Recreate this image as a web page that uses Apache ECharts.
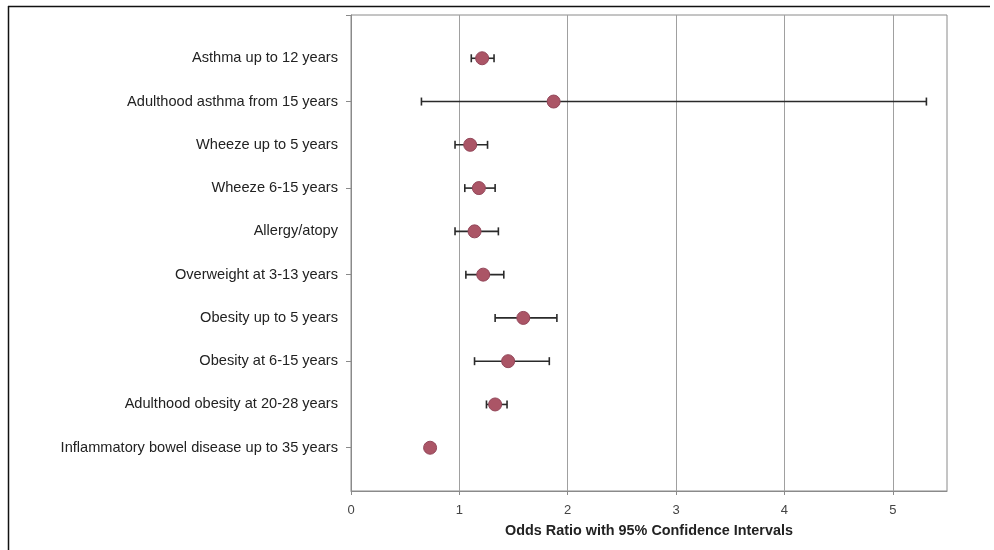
<!DOCTYPE html>
<html>
<head>
<meta charset="utf-8">
<script src="https://cdn.jsdelivr.net/npm/echarts@6/dist/echarts.min.js"></script>
<style>
html,body{margin:0;padding:0;background:#fff;}
#chart{width:994px;height:550px;}
</style>
</head>
<body>
<div id="chart"></div>
<script>
var categories = [
  "Asthma up to 12 years",
  "Adulthood asthma from 15 years",
  "Wheeze up to 5 years",
  "Wheeze 6-15 years",
  "Allergy/atopy",
  "Overweight at 3-13 years",
  "Obesity up to 5 years",
  "Obesity at 6-15 years",
  "Adulthood obesity at 20-28 years",
  "Inflammatory bowel disease up to 35 years"
];
var oddsRatio = [1.21, 1.87, 1.10, 1.18, 1.14, 1.22, 1.59, 1.45, 1.33, 0.73];
var ciLow     = [1.11, 0.65, 0.96, 1.05, 0.96, 1.06, 1.33, 1.14, 1.25, 0.69];
var ciHigh    = [1.32, 5.31, 1.26, 1.33, 1.36, 1.41, 1.90, 1.83, 1.44, 0.77];
var xTicks = [0, 1, 2, 3, 4, 5];
var xAxisTitle = "Odds Ratio with 95% Confidence Intervals";

var n = categories.length;
var pointData = oddsRatio.map(function (v, i) { return [v, n - i]; });
var barData = ciLow.map(function (lo, i) { return [lo, ciHigh[i], n - i]; });
var labelValues = categories.map(function (c, i) { return n - i; });

var chart = echarts.init(document.getElementById('chart'), null, {renderer: 'canvas'});
chart.setOption({
  backgroundColor: '#fff',
  animation: false,
  graphic: [
    {type: 'line', shape: {x1: 8, y1: 6.5, x2: 990, y2: 6.5}, style: {stroke: '#111', lineWidth: 1.5}},
    {type: 'line', shape: {x1: 8.5, y1: 6, x2: 8.5, y2: 550}, style: {stroke: '#111', lineWidth: 1.5}}
  ],
  grid: {
    left: 351, right: 47, top: 15, bottom: 59,
    show: true, borderColor: '#8a8a8a', borderWidth: 1, backgroundColor: 'transparent'
  },
  xAxis: {
    type: 'value', min: 0, max: 5.5, interval: 1,
    name: xAxisTitle, nameLocation: 'middle', nameGap: 33,
    nameTextStyle: {fontFamily: 'Liberation Sans, Arial', fontWeight: 'bold', fontSize: 14.4, color: '#222'},
    axisLine: {show: true, lineStyle: {color: '#8a8a8a', width: 1}},
    axisTick: {show: true, length: 4, lineStyle: {color: '#8a8a8a'}, customValues: xTicks},
    splitLine: {show: true, lineStyle: {color: '#a0a0a0', width: 1}},
    axisLabel: {
      customValues: xTicks, margin: 13,
      fontFamily: 'Liberation Sans, Arial', fontSize: 13, color: '#444',
      formatter: function (v) { return String(v); }
    }
  },
  yAxis: {
    type: 'value', min: 0, max: 11,
    axisLine: {show: true, lineStyle: {color: '#8a8a8a', width: 1}},
    axisTick: {show: true, length: 5, inside: false, lineStyle: {color: '#8a8a8a'}, customValues: [1, 3, 5, 7, 9, 11]},
    splitLine: {show: false},
    axisLabel: {
      customValues: labelValues, margin: 13,
      fontFamily: 'Liberation Sans, Arial', fontSize: 14.6, color: '#222',
      formatter: function (v) { return categories[n - Math.round(v)] || ''; }
    }
  },
  series: [
    {
      type: 'custom',
      data: barData,
      z: 3,
      renderItem: function (params, api) {
        var lo = api.coord([api.value(0), api.value(2)]);
        var hi = api.coord([api.value(1), api.value(2)]);
        var h = 4;
        var st = {stroke: '#2a2a2a', lineWidth: 1.6};
        return {
          type: 'group',
          children: [
            {type: 'line', shape: {x1: lo[0], y1: lo[1], x2: hi[0], y2: hi[1]}, style: st},
            {type: 'line', shape: {x1: lo[0], y1: lo[1] - h, x2: lo[0], y2: lo[1] + h}, style: st},
            {type: 'line', shape: {x1: hi[0], y1: hi[1] - h, x2: hi[0], y2: hi[1] + h}, style: st}
          ]
        };
      }
    },
    {
      type: 'scatter',
      data: pointData,
      z: 4,
      symbol: 'circle',
      symbolSize: 13,
      itemStyle: {color: '#ab5566', borderColor: '#93475a', borderWidth: 1, opacity: 1}
    }
  ]
});
</script>
</body>
</html>
